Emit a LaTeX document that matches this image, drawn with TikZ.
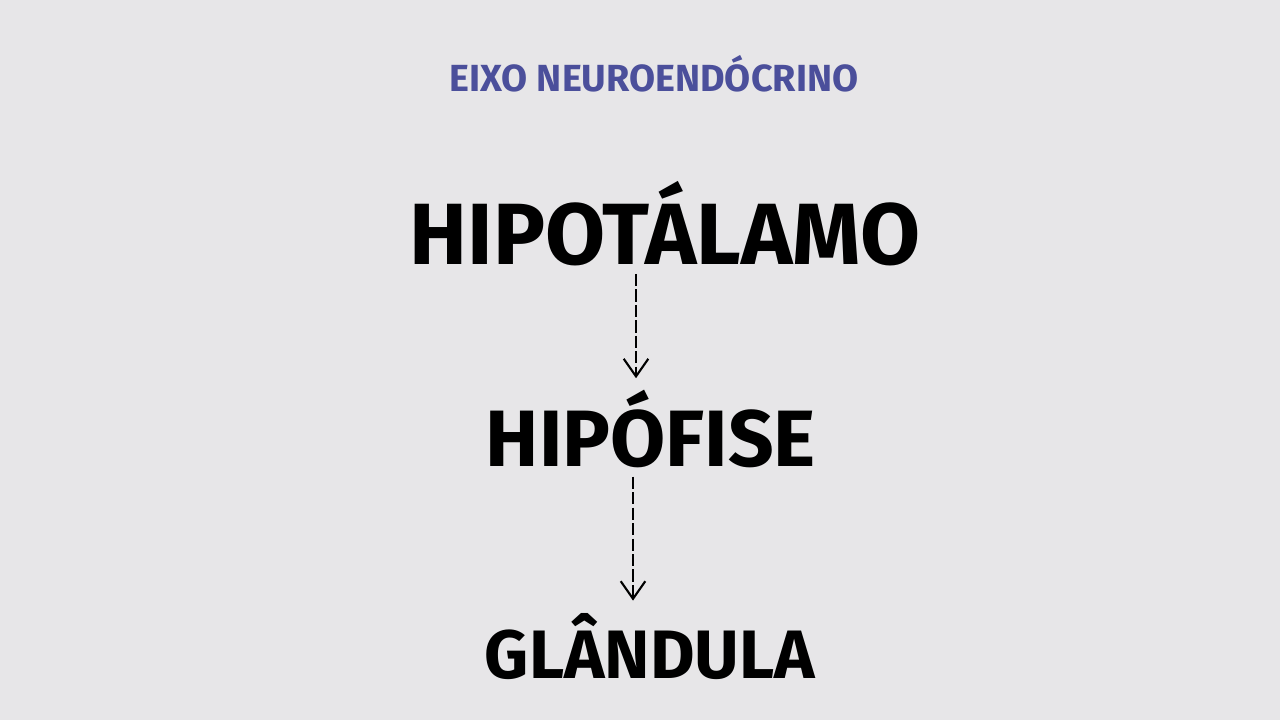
\documentclass[tikz,border=0pt]{standalone}
\usepackage{fontspec}
\setmainfont{Fira Sans}
\usetikzlibrary{arrows.meta}
\definecolor{paper}{HTML}{E7E6E8}
\definecolor{titleblue}{HTML}{4B4F9B}

\begin{document}
\begin{tikzpicture}
	[word/.style={anchor=base,inner sep=0pt,font=\bfseries\fontsize{#1}{#1}\selectfont},
	title/.style={anchor=base,inner sep=0pt,text=titleblue,font=\bfseries\fontsize{21.5}{21.5}\selectfont},
	arr/.style={-{Straight Barb[length=10pt,width=14pt]},line width=1.2pt,dash pattern=on 7pt off 1.8pt}]
	\fill[paper] (0,0) rectangle (25.6,14.4);
	\useasboundingbox (0,0) rectangle (25.6,14.4);
	\node[title] (eixo) at (13.08,12.56) {EIXO NEUROENDÓCRINO};
	\node[word=49.5] (hipot) at (13.3,9.1) {HIPOTÁLAMO};
	\node[word=45.5] (hipof) at (13.02,5.06) {HIPÓFISE};
	\node[word=39] (gland) at (13.0,0.84) {GLÂNDULA};
	\draw[arr] ([xshift=-0.58cm,yshift=-0.14cm]hipot.south) -- ([xshift=-0.3cm,yshift=0.24cm]hipof.north);
	\draw[arr] ([xshift=-0.36cm,yshift=-0.16cm]hipof.south) -- ([xshift=-0.34cm,yshift=0.24cm]gland.north);
\end{tikzpicture}
\end{document}
